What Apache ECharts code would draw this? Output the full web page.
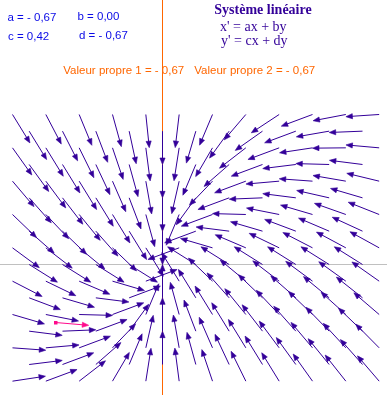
<!DOCTYPE html>
<html><head><meta charset="utf-8">
<script src="https://cdn.jsdelivr.net/npm/echarts@6/dist/echarts.min.js"></script>
<style>html,body{margin:0;padding:0;background:#fff;overflow:hidden}#c{width:387px;height:395px}</style>
</head><body><div id="c"></div>
<script>
// System coefficients: x' = a x + b y ; y' = c x + d y
const coefA = -0.67, coefB = 0.00, coefC = 0.42, coefD = -0.67;
const paramLabels = ['a = - 0,67', 'b = 0,00', 'c = 0,42', 'd = - 0,67'];
const eigenLabels = ['Valeur propre 1 = - 0,67', 'Valeur propre 2 = - 0,67'];
const titleLabel = 'Système linéaire';
const equationLabels = ["x' = ax + by", "y' = cx + dy"];
// Sample lattice (grid units), checkerboard: i + j even
const gridCols = [-9,-8,-7,-6,-5,-4,-3,-2,-1,0,1,2,3,4,5,6,7,8,9,10,11,12,13];
const gridRows = [-7,-6,-5,-4,-3,-2,-1,0,1,2,3,4,5,6,7,8,9];
const arrowLength = 2;              // in grid units
const userPoint = [-6.42, -3.48];   // highlighted starting point

function field(x, y) { return [coefA * x + coefB * y, coefC * x + coefD * y]; }
function arrowFrom(x, y, flag) {
  const v = field(x, y);
  const n = Math.hypot(v[0], v[1]);
  if (n < 1e-9) return null;
  return [x, y, x + arrowLength * v[0] / n, y + arrowLength * v[1] / n, flag];
}
const arrowData = [];
gridRows.forEach(j => gridCols.forEach(i => {
  if (((i + j) % 2 + 2) % 2 !== 0) return;
  const a = arrowFrom(i, j, 0); if (a) arrowData.push(a);
}));
const userArrow = [arrowFrom(userPoint[0], userPoint[1], 1)];

const U = 16.667, OX = 162.5, OY = 264.5, W = 387, H = 395;

function renderArrow(params, api) {
  const p0 = api.coord([api.value(0), api.value(1)]);
  const p1 = api.coord([api.value(2), api.value(3)]);
  const pink = api.value(4) === 1;
  const color = pink ? '#ff0a8c' : '#330099';
  const dx = p1[0] - p0[0], dy = p1[1] - p0[1];
  const L = Math.hypot(dx, dy), ux = dx / L, uy = dy / L;
  const hl = 6.5, hw = 2.6;
  const bx = p1[0] - ux * hl, by = p1[1] - uy * hl;
  const children = [
    { type: 'line', shape: { x1: p0[0], y1: p0[1], x2: bx + ux * 1, y2: by + uy * 1 },
      style: { stroke: color, lineWidth: 1 } },
    { type: 'polygon', shape: { points: [[p1[0], p1[1]], [bx - uy * hw, by + ux * hw], [bx + uy * hw, by - ux * hw]] },
      style: { fill: color, stroke: color, lineWidth: 0.6 } }
  ];
  if (pink) children.push({ type: 'rect', shape: { x: p0[0] - 1.5, y: p0[1] - 1.5, width: 3.5, height: 3.5 }, style: { fill: color } });
  return { type: 'group', children };
}

const chart = echarts.init(document.getElementById('c'), null, { renderer: 'canvas' });
const txt = (text, x, y, font, fill, align) => ({
  type: 'text', x, y, z: 100,
  style: { text, font, fill, align: align || 'left', verticalAlign: 'middle' }
});
const sans = '11.5px "Liberation Sans", Arial, sans-serif';
chart.setOption({
  animation: false,
  backgroundColor: '#ffffff',
  grid: { left: 0, right: 0, top: 0, bottom: 0 },
  xAxis: {
    type: 'value', min: -OX / U, max: (W - OX) / U,
    axisLine: { show: true, onZero: true, lineStyle: { color: '#c0c0c0', width: 1 } },
    axisTick: { show: false }, axisLabel: { show: false }, splitLine: { show: false }
  },
  yAxis: {
    type: 'value', min: -(H - OY) / U, max: OY / U,
    axisLine: { show: true, onZero: true, lineStyle: { color: '#ff6600', width: 1 } },
    axisTick: { show: false }, axisLabel: { show: false }, splitLine: { show: false }
  },
  graphic: [
    txt(paramLabels[0], 7.5, 18, sans, '#0a0ae6'),
    txt(paramLabels[1], 77.5, 17, sans, '#0a0ae6'),
    txt(paramLabels[2], 8, 37, sans, '#0a0ae6'),
    txt(paramLabels[3], 79, 36, sans, '#0a0ae6'),
    txt(titleLabel, 263, 10, 'bold 14px "Liberation Serif", "Times New Roman", serif', '#330099', 'center'),
    txt(equationLabels[0], 220, 27, '14px "Liberation Serif", "Times New Roman", serif', '#330099'),
    txt(equationLabels[1], 221, 41, '14px "Liberation Serif", "Times New Roman", serif', '#330099'),
    txt(eigenLabels[0], 63.3, 71, sans, '#ff6600'),
    txt(eigenLabels[1], 194.3, 71, sans, '#ff6600')
  ],
  series: [
    { type: 'custom', coordinateSystem: 'cartesian2d', renderItem: renderArrow, data: arrowData,
      encode: { x: [0, 2], y: [1, 3] }, clip: false, silent: true, z: 2 },
    { type: 'custom', coordinateSystem: 'cartesian2d', renderItem: renderArrow, data: userArrow,
      encode: { x: [0, 2], y: [1, 3] }, clip: false, silent: true, z: 3 }
  ]
});
</script></body></html>
